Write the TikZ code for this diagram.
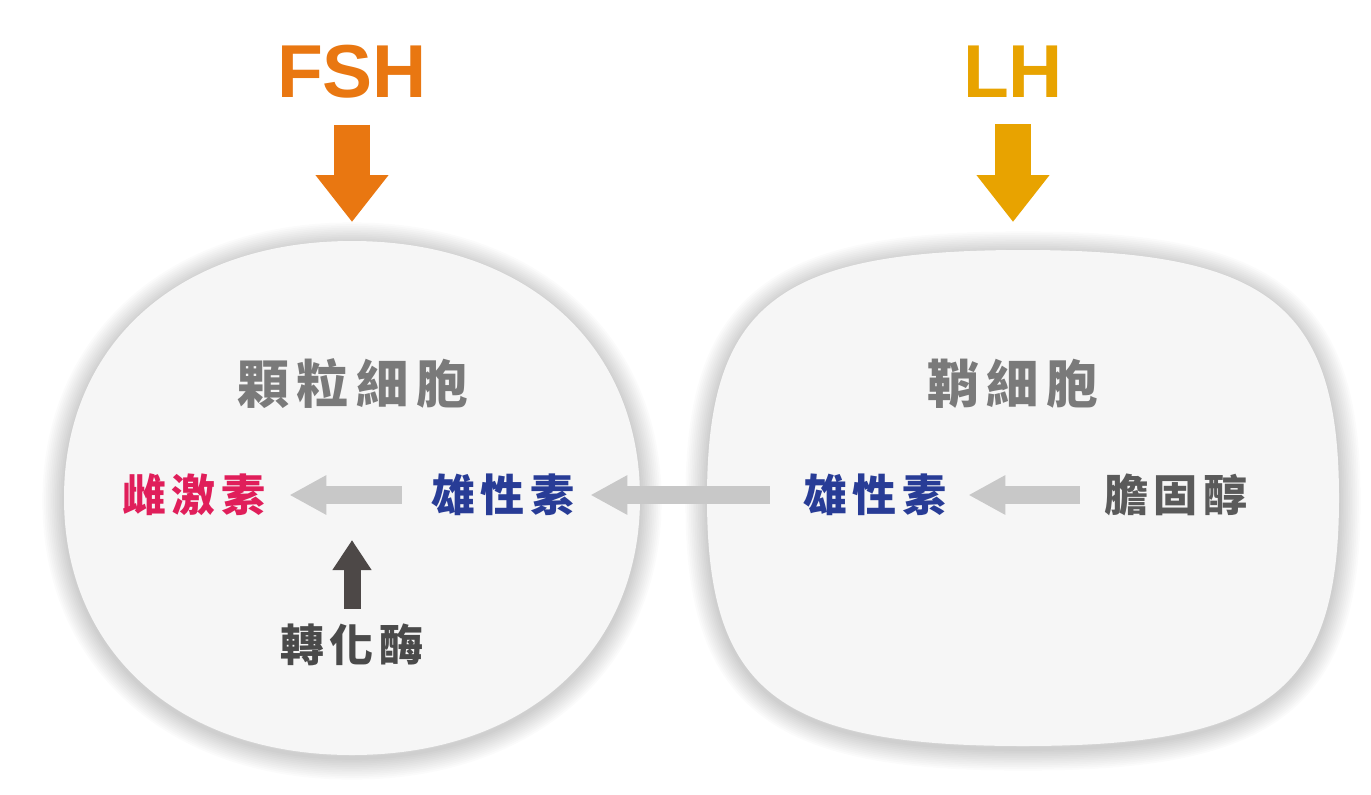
\documentclass[tikz,border=0pt]{standalone}
\usepackage{fontspec}
\setmainfont{Liberation Sans}
\newfontfamily\cjk{Noto Sans CJK TC}
\usetikzlibrary{arrows.meta}
\definecolor{fshc}{HTML}{E97711}
\definecolor{lhc}{HTML}{E8A300}
\definecolor{titlec}{HTML}{7A7A7A}
\definecolor{femc}{HTML}{E01E5A}
\definecolor{andc}{HTML}{283C96}
\definecolor{cholc}{HTML}{5A5A5A}
\definecolor{convc}{HTML}{4A4A4A}
\definecolor{darkarr}{HTML}{4D4847}
\definecolor{grayarr}{HTML}{C8C8C8}
\definecolor{cellfill}{HTML}{F6F6F6}
\newcommand\mykA{\kern4pt}
\newcommand\mykB{\kern3pt}
\tikzset{
  hormone/.style={inner sep=0pt, font=\fontsize{37.5}{40}\selectfont\bfseries},
  celltitle/.style={inner sep=0pt, text=titlec, font=\fontsize{26}{28}\selectfont\cjk\bfseries},
  label/.style={inner sep=0pt, font=\fontsize{22}{24}\selectfont\cjk\bfseries},
  granpath/.style={insert path={(352,241) .. controls (525,241) and (640,344) .. (640,498)
    .. controls (640,652) and (525,755) .. (352,755)
    .. controls (179,755) and (64,652) .. (64,498)
    .. controls (64,344) and (179,241) .. (352,241) -- cycle}},
  thecapath/.style={insert path={(1023,250) .. controls (1269,250) and (1339,305) .. (1339,498)
    .. controls (1339,691) and (1269,746) .. (1023,746)
    .. controls (777,746) and (707,691) .. (707,498)
    .. controls (707,305) and (777,250) .. (1023,250) -- cycle}},
  softshadow/.style={draw=black, opacity=0.014, line join=round, yshift=-1.5pt},
  cellshape/.style={fill=cellfill},
  bigarrow/.style={line width=18pt, -{Triangle[length=23.5pt, width=35pt]}},
  grayarrow/.style={grayarr, line width=9pt, -{Triangle[length=18.5pt, width=18.5pt]}},
  darkarrow/.style={darkarr, line width=8.5pt, -{Triangle[length=15pt, width=18.5pt]}}
}
\begin{document}
\begin{tikzpicture}[x=0.5pt, y=-0.5pt]
\useasboundingbox[fill=white] (0,0) rectangle (1371,794);

% cell shadows
\foreach \i in {1,...,12}{
  \path[softshadow, line width=\i*1.8pt, granpath];
  \path[softshadow, line width=\i*1.8pt, thecapath];
}
% cells
\path[cellshape, granpath];
\path[cellshape, thecapath];

% hormones
\node[hormone, text=fshc] (fsh) at (352,72) {FSH};
\node[hormone, text=lhc] (lh) at (1013,72) {LH};
\coordinate (fshend) at (352,222);
\coordinate (lhend) at (1013,222);
\draw[bigarrow, fshc, shorten <=13pt] (fsh.south) -- (fshend);
\draw[bigarrow, lhc, shorten <=13pt] (lh.south) -- (lhend);

% titles
\node[celltitle] (gran) at (353,384) {顆\mykA 粒\mykA 細\mykA 胞};
\node[celltitle] (theca) at (1013,384) {鞘\mykA 細\mykA 胞};

% labels
\node[label, text=femc] (fem) at (194,495) {雌\mykB 激\mykB 素};
\node[label, text=andc] (andL) at (503,495) {雄\mykB 性\mykB 素};
\node[label, text=andc] (andR) at (875,495) {雄\mykB 性\mykB 素};
\node[label, text=cholc] (chol) at (1176,495) {膽\mykB 固\mykB 醇};
\node[label, text=convc] (conv) at (352,645) {轉\mykB 化\mykB 酶};
\coordinate (convtip) at (352,540);

% connectors
\draw[grayarrow, shorten <=14.5pt, shorten >=11.5pt] (andL.west) -- (fem.east);
\draw[grayarrow, shorten <=16.5pt, shorten >=7.5pt] (andR.west) -- (andL.east);
\draw[grayarrow, shorten <=12pt, shorten >=10.5pt] (chol.west) -- (andR.east);
\draw[darkarrow, shorten <=7.5pt] (conv.north) -- (convtip);
\end{tikzpicture}
\end{document}
